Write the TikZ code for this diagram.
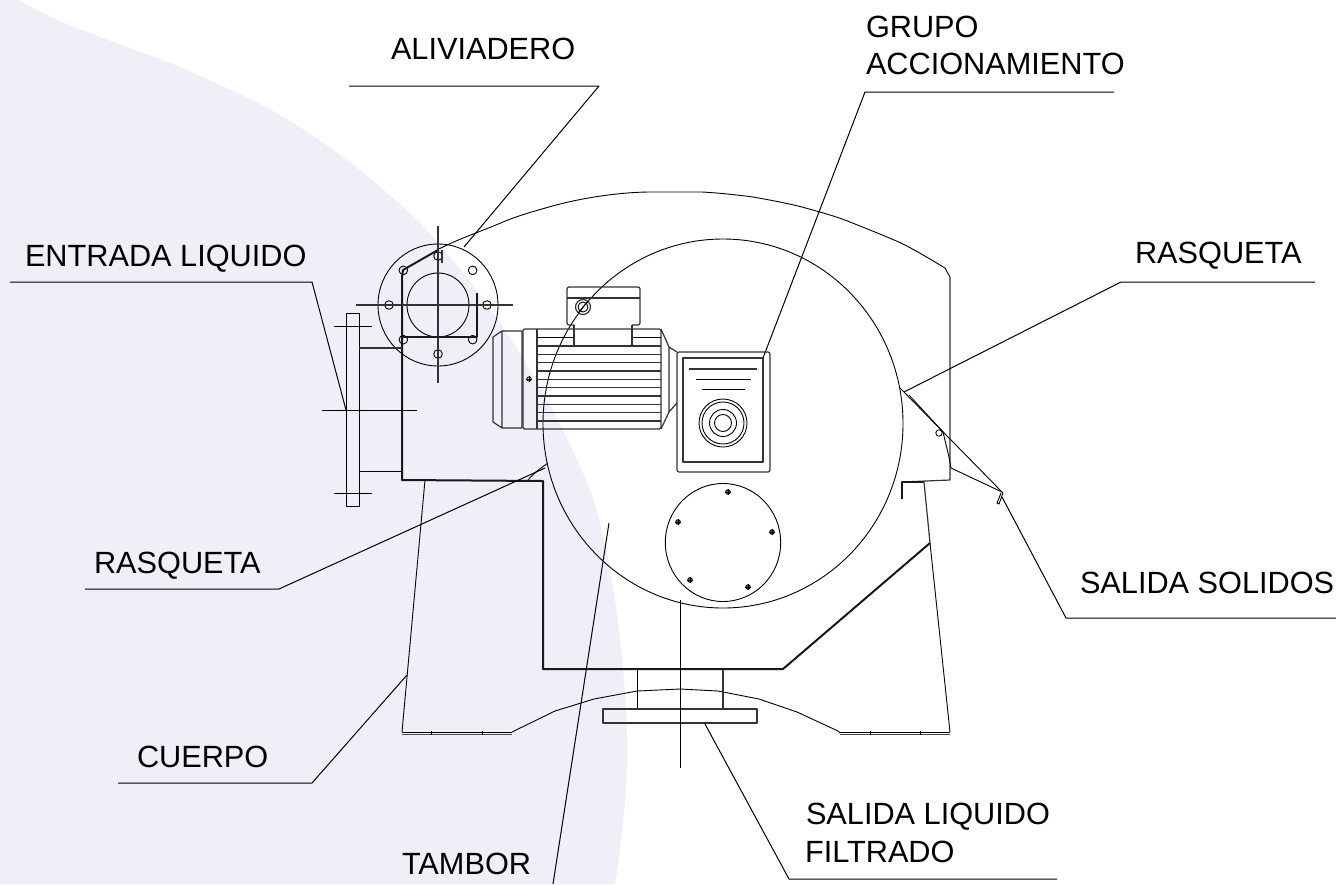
\documentclass[tikz,border=0pt]{standalone}
\usepackage{fontspec}
\usetikzlibrary{calc}
\setmainfont{Liberation Sans}
\definecolor{bgblue}{HTML}{EEEFF7}
\tikzset{
  x=1pt,y=-1pt,
  thinline/.style={draw=black,line width=0.9pt,line join=round},
  midline/.style={draw=black!80,line width=1.2pt,line join=round},
  thickline/.style={draw=black!90,line width=2pt,line join=round},
  leader/.style={draw=black,line width=1pt,line join=round},
  lab/.style={anchor=base west,inner sep=0pt,outer sep=0pt,font=\fontsize{30.7}{32}\selectfont,text=black},
}
\begin{document}
\begin{tikzpicture}
\useasboundingbox (0,0) rectangle (1336,884);
% background
\fill[bgblue] (0,0) -- (18,0) .. controls (40,12) and (65,24) .. (90,33)
  .. controls (125,47) and (160,58) .. (187,70)
  .. controls (220,85) and (255,100) .. (283,117)
  .. controls (340,150) and (385,190) .. (417,220)
  .. controls (480,285) and (545,380) .. (590,490)
  .. controls (610,545) and (625,650) .. (627,740)
  .. controls (628,790) and (622,840) .. (615,884) -- (0,884) -- cycle;
% drum
\draw[thinline] (723,423.5) ellipse[x radius=180,y radius=184.5];
\draw[thinline] (723,542.5) ellipse[x radius=57.7,y radius=59];
\foreach \bx/\by in {728/492,772/532,748/587,690/580,678/522}{
  \draw[thinline,fill=black!60] (\bx,\by) circle[radius=2.3];
  \draw[line width=0.5pt] (\bx-3,\by) -- (\bx+3,\by) (\bx,\by-3) -- (\bx,\by+3);
}
% outer body
\draw[thinline] (437,250) .. controls (460,238) and (480,232) .. (503,222)
  .. controls (520,215) and (535,211) .. (549,207)
  .. controls (580,198) and (620,192) .. (651,192) -- (702,192)
  .. controls (720,193) and (738,195) .. (753,197)
  .. controls (770,200) and (786,203) .. (802,207)
  .. controls (820,212) and (835,216) .. (850,222)
  .. controls (870,230) and (885,236) .. (901,243)
  .. controls (915,250) and (930,259) .. (945,268) -- (950,277);
\draw[midline] (950,277) -- (950,480) -- (902,482);
\draw[thickline] (902,499) -- (902,482) -- (924,482);
% right scraper
\draw[thinline] (900,388) -- (1003,493) -- (999,504) -- (997,503) -- (1001,493);
\draw[thinline] (909,395) -- (943,432) -- (949,457) -- (951,468) -- (1002,492);
\draw[thinline] (939,433) circle[radius=3.2];
% supports
\draw[thinline] (425,480) -- (402,732);
\draw[midline] (924,482) -- (930,543);
\draw[thinline] (930,543) -- (950,732);
\draw[thinline] (402,732) -- (512,732) (840,732) -- (950,732);
\draw[draw=black!70,line width=0.9pt] (402,734) -- (512,734) (840,734) -- (950,734);
\foreach \tx in {431,482,870,920}{\draw[thinline] (\tx,731) -- (\tx,734.5);}
\draw[thinline] (512,732) -- (555,711) -- (594,699) -- (637,691) -- (680,689) -- (718,691) -- (759,699) -- (797,712) -- (838,731) -- (840,733);
% main body
\draw[thickline] (438,250) -- (403,270) -- (402,277) -- (402,480) -- (543,481) -- (543,669) -- (783,669) -- (930,543);
% inlet flange
\draw[thinline] (438,305) ellipse[x radius=60,y radius=61];
\draw[thinline] (438,305) ellipse[x radius=31,y radius=32];
\foreach \a in {0,45,...,315}{\draw[thinline] ($(438,305)+(\a:49)$) circle[radius=4.3];}
\draw[midline] (356,305) -- (513,305) (438,226) -- (438,383);
\draw[thickline] (402,337) -- (477,337) -- (477,293);
\draw[midline] (442,250) -- (442,263);
% left flange
\draw[thinline] (346,313) rectangle (359,506);
\draw[thinline] (334,326) -- (372,326) (334,493) -- (372,493) (322,410) -- (417,410);
\draw[midline] (359,348) -- (402,348);
\draw[thinline] (359,471) -- (402,471);
% scraper left
\draw[midline] (528,480) .. controls (535,472) and (541,468) .. (548,463);
% pipe
\draw[thinline] (637,669) -- (637,709);
\draw[midline] (723,669) -- (723,709);
\draw[midline] (603,709) rectangle (757,723);
\draw[thinline] (680,600) -- (680,768);
% motor
\draw[midline] (502,331) -- (522,331) -- (522,428) -- (502,428) -- (493,422) -- (493,337) -- cycle (502,331) -- (502,428);
\draw[midline,rounded corners=1.5pt] (523,329) rectangle (661,429);
\draw[midline] (537,329) -- (537,429);
\foreach \k in {1,...,11}{
  \pgfmathsetmacro{\ly}{329.3+8.33*\k}
  \ifnum\k=1 \draw[thinline] (537,\ly) -- (574,\ly) (632,\ly) -- (661,\ly);
  \else \draw[midline] (537,\ly) -- (661,\ly); \fi
}
\draw[midline] (574,325) -- (574,346) (632,325) -- (632,346);
\draw[midline,rounded corners=2pt] (574,325) -- (567,325) -- (567,287) -- (640,287) -- (640,325) -- (632,325);
\draw[midline] (567,298) -- (640,298);
\draw[midline] (583,307) circle[radius=7.5];
\draw[thinline] (583,307) circle[radius=5];
\draw[thinline] (578,313) -- (588,301);
\draw[thinline] (529,379) circle[radius=2.2];
\draw[line width=0.5pt] (526,379) -- (532,379) (529,376) -- (529,382);
\draw[midline] (661,329) -- (669,347) -- (677,352) (661,429) -- (669,412) -- (677,403) (669,347) -- (669,412);
% gearbox
\draw[midline,rounded corners=2pt] (677,352) rectangle (770,472);
\draw[midline] (683,358) rectangle (763,462);
\draw[midline] (689,369) -- (757,369);
\draw[thinline] (696,379) -- (751,379) (702,389) -- (745,389);
\foreach \r in {24,21,13.5,8.5}{\draw[thinline] (723,423) circle[radius=\r];}
% labels
\node[lab] (lalivi) at (391,59) {ALIVIADERO};
\node[lab] (lgrupo) at (866,37) {GRUPO};
\node[lab] (lacc) at (866,74) {ACCIONAMIENTO};
\node[lab] (lrasr) at (1135,263) {RASQUETA};
\node[lab] (lentr) at (25,266) {ENTRADA LIQUIDO};
\node[lab] (lrasl) at (94,573) {RASQUETA};
\node[lab] (lcuer) at (137,767) {CUERPO};
\node[lab] (ltamb) at (402,874) {TAMBOR};
\node[lab] (lsal) at (806,824) {SALIDA LIQUIDO};
\node[lab] (lfil) at (805,862) {FILTRADO};
\node[lab] (lsol) at (1080,593) {SALIDA SOLIDOS};
% leaders
\coordinate (a0) at (349,86); \coordinate (a1) at (599,86); \coordinate (a2) at (464,247);
\draw[leader] (a0) -- (a1) -- (a2);
\coordinate (b0) at (1114,92); \coordinate (b1) at (865,92); \coordinate (b2) at (763,358);
\draw[leader] (b0) -- (b1) -- (b2);
\coordinate (c0) at (1315,282); \coordinate (c1) at (1121,282); \coordinate (c2) at (904,392);
\draw[leader] (c0) -- (c1) -- (c2);
\coordinate (d0) at (10,282); \coordinate (d1) at (312,282); \coordinate (d2) at (346,410);
\draw[leader] (d0) -- (d1) -- (d2);
\coordinate (e0) at (85,589); \coordinate (e1) at (279,589); \coordinate (e2) at (545,468);
\draw[leader] (e0) -- (e1) -- (e2);
\coordinate (f0) at (118,783); \coordinate (f1) at (312,783); \coordinate (f2) at (407,675);
\draw[leader] (f0) -- (f1) -- (f2);
\coordinate (g0) at (553,884); \coordinate (g1) at (609,523);
\draw[leader] (g0) -- (g1);
\coordinate (h0) at (1057,879); \coordinate (h1) at (789,879); \coordinate (h2) at (705,724);
\draw[leader] (h0) -- (h1) -- (h2);
\coordinate (i0) at (1336,618); \coordinate (i1) at (1066,618); \coordinate (i2) at (1002,497);
\draw[leader] (i0) -- (i1) -- (i2);
\end{tikzpicture}
\end{document}
